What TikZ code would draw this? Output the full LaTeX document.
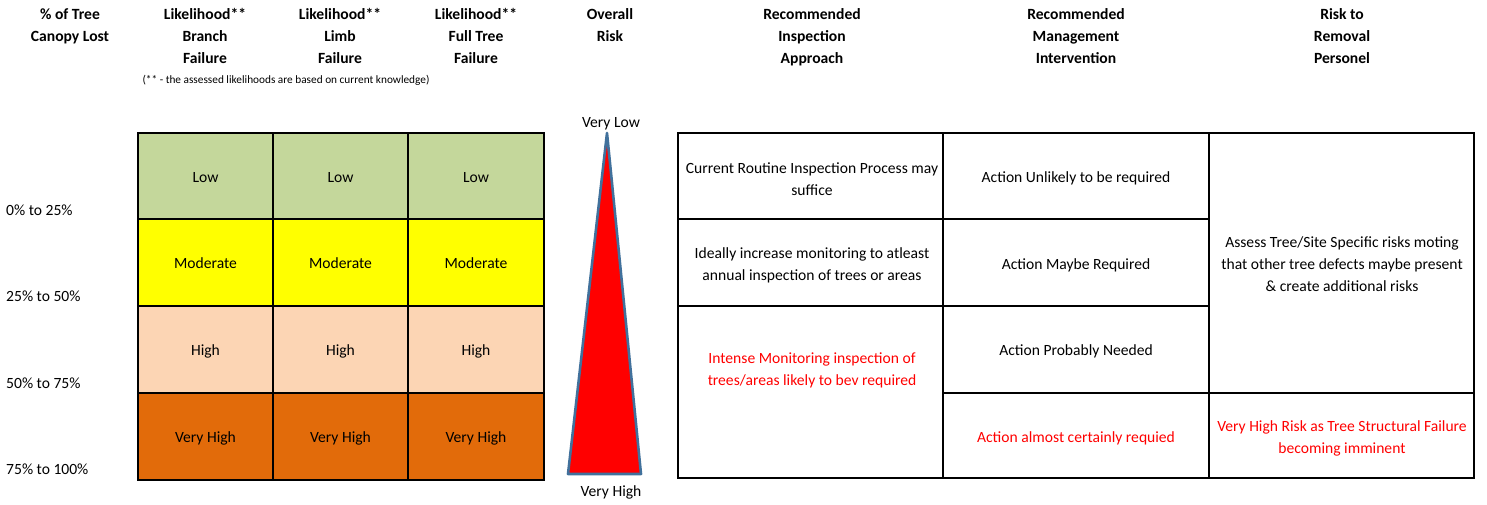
\documentclass[tikz,border=0pt]{standalone}
\usepackage{fontspec}
\setmainfont{Carlito}
\definecolor{lowc}{HTML}{C4D79B}
\definecolor{modc}{HTML}{FFFF00}
\definecolor{highc}{HTML}{FCD5B4}
\definecolor{vhighc}{HTML}{E26B0A}
\definecolor{triedge}{HTML}{41719C}
\definecolor{redtxt}{HTML}{FF0000}
\tikzset{
  hdr/.style={font=\fontsize{15.6}{22}\selectfont\bfseries, align=center, anchor=north, inner sep=0pt},
  cell/.style={draw=black, line width=2pt, font=\fontsize{15.6}{22}\selectfont, inner sep=0pt, text height=14pt, text depth=2pt},
  lbl/.style={font=\fontsize{15.6}{22}\selectfont, anchor=west, inner sep=0pt},
  txt/.style={font=\fontsize{15.6}{22}\selectfont, align=center, inner sep=0pt},
  redt/.style={txt, text=redtxt},
  grid/.style={line width=2.6pt, draw=black}
}
\begin{document}
\begin{tikzpicture}[x=1pt,y=-1pt]
\useasboundingbox (0,0) rectangle (1487,504);
% headers
\node[hdr] (h1) at (70,8) {\% of Tree\\Canopy Lost};
\node[hdr] (h2) at (205,8) {Likelihood**\\Branch\\Failure};
\node[hdr] (h3) at (340,8) {Likelihood**\\Limb\\Failure};
\node[hdr] (h4) at (476,8) {Likelihood**\\Full Tree\\Failure};
\node[hdr] (h5) at (610,8) {Overall\\Risk};
\node[hdr] (h6) at (812,8) {Recommended\\Inspection\\Approach};
\node[hdr] (h7) at (1076,8) {Recommended\\Management\\Intervention};
\node[hdr] (h8) at (1342,8) {Risk to\\Removal\\Personel};
\node[font=\fontsize{11.3}{13}\selectfont, inner sep=0pt] (note) at (286,80) {(** - the assessed likelihoods are based on current knowledge)};
% canopy labels
\node[lbl] (c1) at (6,210) {0\% to 25\%};
\node[lbl] (c2) at (6,296) {25\% to 50\%};
\node[lbl] (c3) at (6,383) {50\% to 75\%};
\node[lbl] (c4) at (6,469) {75\% to 100\%};
% likelihood grid
\foreach \cx/\w [count=\i] in {205.5/135,340.5/135,476/136}{
  \node[cell, fill=lowc, minimum width=\w pt, minimum height=86pt] (low\i) at (\cx,176) {Low};
  \node[cell, fill=modc, minimum width=\w pt, minimum height=87pt] (mod\i) at (\cx,262.5) {Moderate};
  \node[cell, fill=highc, minimum width=\w pt, minimum height=87pt] (high\i) at (\cx,349.5) {High};
  \node[cell, fill=vhighc, minimum width=\w pt, minimum height=87pt] (vh\i) at (\cx,436.5) {Very High};
}
% triangle
\coordinate (ta) at (607,133);
\coordinate (tb) at (641,474);
\coordinate (tc) at (568,474);
\draw[line width=2.6pt, draw=triedge, fill=red, line join=round] (ta) -- (tb) -- (tc) -- cycle;
\node[txt] (vl) at (611,124) {Very Low};
\node[txt] (vhh) at (611,492) {Very High};
% right table
\coordinate (r1) at (678,133);
\coordinate (r2) at (1474,478);
\draw[grid] (r1) rectangle (r2);
\draw[grid] (943,133) -- (943,478);
\draw[grid] (1209,133) -- (1209,478);
\draw[grid] (678,219) -- (1209,219);
\draw[grid] (678,306) -- (1209,306);
\draw[grid] (943,393) -- (1474,393);
\node[txt] (i1) at (812,179) {Current Routine Inspection Process may\\suffice};
\node[txt] (i2) at (812,265) {Ideally increase monitoring to atleast\\annual inspection of trees or areas};
\node[redt] (i3) at (812,370) {Intense Monitoring inspection of\\trees/areas likely to bev required};
\node[txt] (m1) at (1076,178) {Action Unlikely to be required};
\node[txt] (m2) at (1076,265) {Action Maybe Required};
\node[txt] (m3) at (1076,351) {Action Probably Needed};
\node[redt] (m4) at (1076,438) {Action almost certainly requied};
\node[txt] (p1) at (1342,264) {Assess Tree/Site Specific risks moting\\that other tree defects maybe present\\\& create additional risks};
\node[redt] (p2) at (1342,438) {Very High Risk as Tree Structural Failure\\becoming imminent};
\end{tikzpicture}
\end{document}
